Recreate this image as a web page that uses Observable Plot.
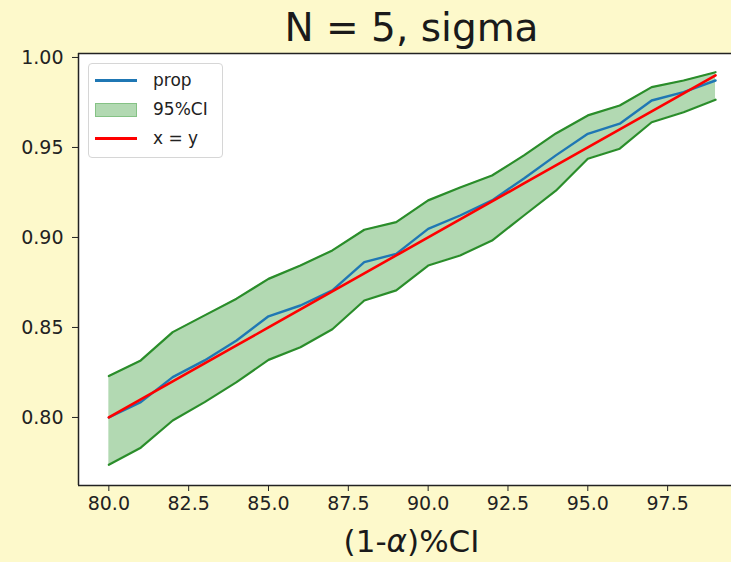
<!DOCTYPE html>
<html>
<head>
<meta charset="utf-8">
<script src="https://cdn.jsdelivr.net/npm/d3@7"></script>
<script src="https://cdn.jsdelivr.net/npm/@observablehq/plot@0.6"></script>
<style>
  html, body { margin: 0; padding: 0; }
  body { width: 731px; height: 562px; overflow: hidden; background: #fdf9cb; font-family: "DejaVu Sans", sans-serif; position: relative; color: #1a1a1a; }
  #title { position: absolute; left: 78px; width: 667px; top: 8px; text-align: center; font-size: 39px; line-height: 1; }
  #chart { position: absolute; left: 0; top: 0; }
  #xlabel { position: absolute; left: 78px; width: 667px; top: 526px; text-align: center; font-size: 31px; line-height: 1; }
  #legend { position: absolute; left: 88px; top: 63px; width: 133px; height: 93px; background: rgba(255,255,255,0.85); border: 1px solid #d6d6d6; border-radius: 4px; font-size: 17px; color: #222; }
  .item { position: absolute; left: 0; height: 20px; width: 133px; }
  .sw { position: absolute; left: 6px; width: 42px; }
  .lab { position: absolute; left: 64px; top: 0; line-height: 20px; }
</style>
</head>
<body>
<div id="title">N = 5, sigma</div>
<div id="chart"></div>
<div id="xlabel">(1-<i>α</i>)%CI</div>
<div id="legend">
  <div class="item" style="top:6px"><div class="sw" style="top:9px;height:2.5px;background:#1f77b4"></div><div class="lab">prop</div></div>
  <div class="item" style="top:35px"><div class="sw" style="top:4px;height:14px;background:rgba(0,128,0,0.3);border:1px solid rgba(0,128,0,0.25);box-sizing:border-box"></div><div class="lab">95%CI</div></div>
  <div class="item" style="top:64px"><div class="sw" style="top:9px;height:2.5px;background:#ff0000"></div><div class="lab">x = y</div></div>
</div>
<script>
const level = [80, 81, 82, 83, 84, 85, 86, 87, 88, 89, 90, 91, 92, 93, 94, 95, 96, 97, 98, 99];
const prop  = [0.8000, 0.8085, 0.8224, 0.8317, 0.8428, 0.8562, 0.8622, 0.8706, 0.8863, 0.8909,
               0.9048, 0.9122, 0.9206, 0.9328, 0.9456, 0.9576, 0.9632, 0.9761, 0.9807, 0.9872];
const upper = [0.8230, 0.8317, 0.8474, 0.8567, 0.8660, 0.8770, 0.8844, 0.8928, 0.9043, 0.9085,
               0.9206, 0.9278, 0.9344, 0.9456, 0.9578, 0.9678, 0.9733, 0.9835, 0.9872, 0.9918];
const lower = [0.7737, 0.7832, 0.7983, 0.8085, 0.8196, 0.8320, 0.8390, 0.8490, 0.8650, 0.8706,
               0.8844, 0.8900, 0.8983, 0.9122, 0.9260, 0.9437, 0.9493, 0.9640, 0.9696, 0.9765];
const identity = [0.80, 0.81, 0.82, 0.83, 0.84, 0.85, 0.86, 0.87, 0.88, 0.89,
                  0.90, 0.91, 0.92, 0.93, 0.94, 0.95, 0.96, 0.97, 0.98, 0.99];
const xTicks = [80, 82.5, 85, 87.5, 90, 92.5, 95, 97.5];
const yTicks = [0.80, 0.85, 0.90, 0.95, 1.00];
const xDomain = [79.05, 99.5];
const yDomain = [0.7622, 1.0022];

const data = level.map((x, i) => ({x, prop: prop[i], hi: upper[i], lo: lower[i], ref: identity[i]}));

const plot = Plot.plot({
  width: 731,
  height: 520,
  marginTop: 53,
  marginBottom: 35,
  marginLeft: 78,
  marginRight: 0,
  style: {background: "transparent", fontSize: "19px", fontFamily: "DejaVu Sans, sans-serif", color: "#222"},
  x: {domain: xDomain, ticks: xTicks, tickFormat: ".1f", tickSize: 6, tickPadding: 5, label: null},
  y: {domain: yDomain, ticks: yTicks, tickFormat: ".2f", tickSize: 6, tickPadding: 9, label: null},
  marks: [
    Plot.frame({fill: "white", stroke: "none"}),
    Plot.areaY(data, {x: "x", y1: "lo", y2: "hi", fill: "green", fillOpacity: 0.3}),
    Plot.line(data, {x: "x", y: "hi", stroke: "#2a8d2a", strokeWidth: 2.2}),
    Plot.line(data, {x: "x", y: "lo", stroke: "#2a8d2a", strokeWidth: 2.2}),
    Plot.line(data, {x: "x", y: "prop", stroke: "#1f77b4", strokeWidth: 2.4}),
    Plot.line(data, {x: "x", y: "ref", stroke: "#ff0000", strokeWidth: 2.6}),
    Plot.ruleX([xDomain[0]], {stroke: "#222", strokeWidth: 1.5}),
    Plot.ruleY(yDomain, {stroke: "#222", strokeWidth: 1.5})
  ]
});
document.getElementById("chart").appendChild(plot);
</script>
</body>
</html>
